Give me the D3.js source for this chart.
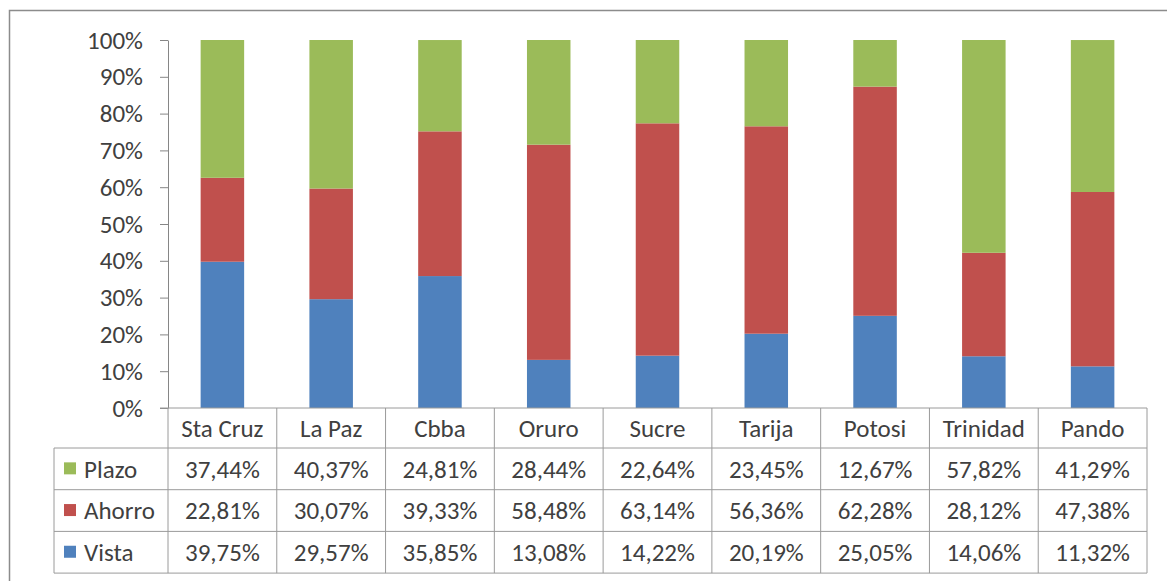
<!DOCTYPE html>
<html>
<head>
<meta charset="utf-8">
<script src="https://cdn.jsdelivr.net/npm/d3@7"></script>
<style>
body{margin:0;background:#fff;}
text{font-family:Carlito,Lato,"Liberation Sans",sans-serif;fill:#404040;}
</style>
</head>
<body>
<script>
var width = 1167;
var height = 581;

var categories = ["Sta Cruz","La Paz","Cbba","Oruro","Sucre","Tarija","Potosi","Trinidad","Pando"];
var seriesNames = ["Plazo","Ahorro","Vista"];
var plazo  = [37.44,40.37,24.81,28.44,22.64,23.45,12.67,57.82,41.29];
var ahorro = [22.81,30.07,39.33,58.48,63.14,56.36,62.28,28.12,47.38];
var vista  = [39.75,29.57,35.85,13.08,14.22,20.19,25.05,14.06,11.32];
var yTicks = [0,10,20,30,40,50,60,70,80,90,100];

var colors = {Plazo:"#9bbb59",Ahorro:"#c0504d",Vista:"#4f81bd"};
var values = {Plazo:plazo,Ahorro:ahorro,Vista:vista};

var rows = categories.map(function(c,i){
	return {cat:c,Vista:vista[i],Ahorro:ahorro[i],Plazo:plazo[i]};
});

var padding = {top:40,left:168,right:1147,bottom:408};
var headerH = 40;
var rowH = 41.7;
var legendLeft = 54;
var fontSize = "25px";

var svg = d3.select("body")
.append("svg")
.attr("width",width)
.attr("height",height);

// outer frame
svg.append("rect")
.attr("x",9.5)
.attr("y",10.5)
.attr("width",width)
.attr("height",height)
.attr("fill","none")
.attr("stroke","#8c8c8c")
.attr("stroke-width",1.5);

var xScale = d3.scaleBand()
.domain(categories)
.range([padding.left,padding.right]);

var yScale = d3.scaleLinear()
.domain([0,100])
.range([padding.bottom,padding.top]);

var stack = d3.stack().keys(["Vista","Ahorro","Plazo"]);
var layers = stack(rows);

var barW = xScale.bandwidth()*0.4;

svg.selectAll(".layer")
.data(layers)
.enter()
.append("g")
.attr("fill",function(d){return colors[d.key];})
.selectAll("rect")
.data(function(d){return d;})
.enter()
.append("rect")
.attr("x",function(d){return xScale(d.data.cat) + (xScale.bandwidth()-barW)/2;})
.attr("y",function(d){return yScale(Math.min(100,d[1]));})
.attr("width",barW)
.attr("height",function(d){return yScale(d[0]) - yScale(Math.min(100,d[1]));});

var yAxis = d3.axisLeft(yScale)
.tickValues(yTicks)
.tickSize(8)
.tickSizeOuter(0)
.tickPadding(17)
.tickFormat(function(d){return d + "%";});

var ax = svg.append("g")
.attr("class","axis")
.attr("transform","translate(" + padding.left + ",0)")
.call(yAxis);
ax.selectAll("line,path").attr("stroke","#868686");
ax.selectAll("text").attr("font-size",fontSize).attr("fill","#404040")
.attr("font-family","Carlito,Lato,sans-serif");

// data table
var lineColor = "#9a9a9a";
var tbl = svg.append("g");
var tableBottom = padding.bottom + headerH + rowH*3;

tbl.append("line")
.attr("x1",padding.left-8).attr("x2",padding.right)
.attr("y1",padding.bottom).attr("y2",padding.bottom)
.attr("stroke",lineColor);

var xEdges = categories.map(function(c){return xScale(c);}).concat([padding.right]);
tbl.selectAll(".vline")
.data(xEdges)
.enter()
.append("line")
.attr("x1",function(d){return d;}).attr("x2",function(d){return d;})
.attr("y1",padding.bottom).attr("y2",tableBottom)
.attr("stroke",lineColor);

tbl.append("line")
.attr("x1",legendLeft).attr("x2",legendLeft)
.attr("y1",padding.bottom+headerH).attr("y2",tableBottom)
.attr("stroke",lineColor);

tbl.selectAll(".hline")
.data([0,1,2,3])
.enter()
.append("line")
.attr("x1",legendLeft).attr("x2",padding.right)
.attr("y1",function(d){return padding.bottom+headerH+d*rowH;})
.attr("y2",function(d){return padding.bottom+headerH+d*rowH;})
.attr("stroke",lineColor);

tbl.selectAll(".head")
.data(categories)
.enter()
.append("text")
.attr("x",function(d){return xScale(d)+xScale.bandwidth()/2;})
.attr("y",padding.bottom+headerH/2)
.attr("dy","0.35em")
.attr("text-anchor","middle")
.attr("font-size",fontSize)
.text(function(d){return d;});

seriesNames.forEach(function(s,r){
	var cy = padding.bottom+headerH+r*rowH+rowH/2;
	tbl.append("rect")
	.attr("x",64).attr("y",cy-6.5)
	.attr("width",12).attr("height",12)
	.attr("fill",colors[s]);
	tbl.append("text")
	.attr("x",84).attr("y",cy)
	.attr("dy","0.35em")
	.attr("font-size",fontSize)
	.text(s);
	tbl.selectAll(".v"+s)
	.data(values[s])
	.enter()
	.append("text")
	.attr("x",function(d,i){return xScale(categories[i])+xScale.bandwidth()/2;})
	.attr("y",cy)
	.attr("dy","0.35em")
	.attr("text-anchor","middle")
	.attr("font-size",fontSize)
	.text(function(d){return d.toFixed(2).replace(".",",") + "%";});
});
</script>
</body>
</html>
